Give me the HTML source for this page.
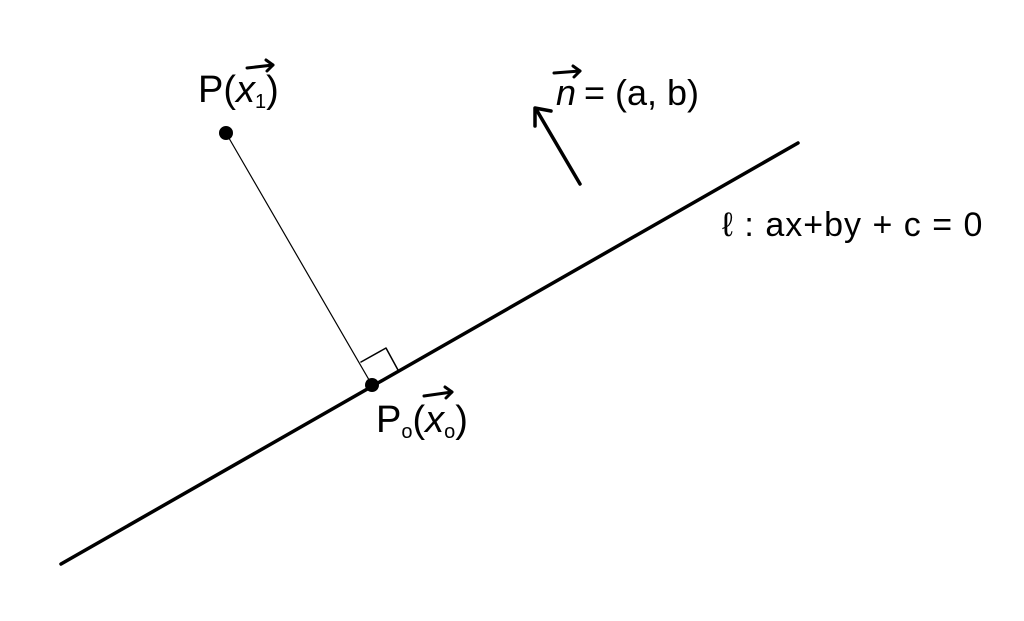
<!DOCTYPE html>
<html><head><style>html,body{margin:0;padding:0;background:#fff}svg{display:block}</style></head>
<body>
<svg width="1024" height="621" viewBox="0 0 1024 621" xmlns="http://www.w3.org/2000/svg">
<rect width="1024" height="621" fill="#fff"/>
<g stroke="#000" stroke-linecap="round" stroke-linejoin="round" fill="none">
<line x1="61" y1="564" x2="798" y2="143" stroke-width="3.5"/>
<line x1="226" y1="133" x2="372" y2="385" stroke-width="1.2"/>
<polyline points="361,362 386,348 398,370" stroke-width="1.5"/>
<line x1="580" y1="184" x2="536" y2="109" stroke-width="3.5"/>
<polyline points="535,126 535,108 551,111" stroke-width="3.5"/>
<!-- vector arrows -->
<line x1="247" y1="68" x2="273" y2="65" stroke-width="3"/>
<polyline points="266,60 273,65 267,71" stroke-width="3"/>
<line x1="424" y1="396" x2="452" y2="392" stroke-width="3"/>
<polyline points="445,387 452,392 446,398" stroke-width="3"/>
<line x1="554" y1="73" x2="580" y2="71" stroke-width="3"/>
<polyline points="573,66 580,71 574,77" stroke-width="3"/>
</g>
<circle cx="226" cy="133" r="7" fill="#000"/>
<circle cx="372" cy="385" r="7" fill="#000"/>
<g font-family="Liberation Sans, sans-serif" fill="#000">
<text x="198" y="102" font-size="38">P(<tspan font-style="italic">x</tspan><tspan font-size="20" dy="6">1</tspan><tspan dy="-6">)</tspan></text>
<text x="376" y="432" font-size="38">P<tspan font-size="20" dy="6">o</tspan><tspan dy="-6">(</tspan><tspan font-style="italic">x</tspan><tspan font-size="20" dy="6">o</tspan><tspan dy="-6">)</tspan></text>
<text x="556" y="105" font-size="36" font-style="italic">n</text>
<text x="584" y="105" font-size="36">= (a, b)</text>
<text x="722" y="236" font-size="34" letter-spacing="1">ℓ : ax+by + c = 0</text>
</g>
</svg>
</body></html>
